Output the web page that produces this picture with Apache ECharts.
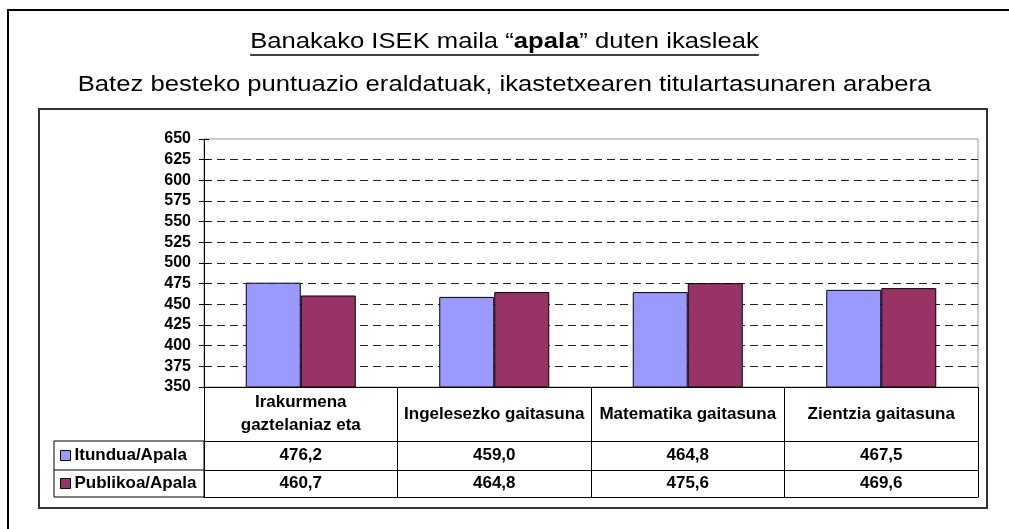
<!DOCTYPE html>
<html>
<head>
<meta charset="utf-8">
<style>
  html, body { margin: 0; padding: 0; background: #fff; }
  #chart { width: 1009px; height: 529px; }
</style>
<script src="https://cdn.jsdelivr.net/npm/echarts@6/dist/echarts.min.js"></script>
</head>
<body>
<div id="chart"></div>
<script>
const categories = ["Irakurmena\ngaztelaniaz eta", "Ingelesezko gaitasuna", "Matematika gaitasuna", "Zientzia gaitasuna"];
const seriesNames = ["Itundua/Apala", "Publikoa/Apala"];
const itundua = [476.2, 459.0, 464.8, 467.5];
const publikoa = [460.7, 464.8, 475.6, 469.6];
const yMin = 350;
const yMax = 650;
const yStep = 25;

const titleParts = ["Banakako ISEK maila “", "apala", "” duten ikasleak"];
const subtitle = "Batez besteko puntuazio eraldatuak, ikastetxearen titulartasunaren arabera";

const FONT = '"Liberation Sans", Arial, sans-serif';
const COLORS = {
  itundua: "#9999FF",
  publikoa: "#993366",
  ink: "#000",
  frame: "#333",
  plotBorder: "#999",
};
const W = 1009;
const GRID = { left: 204, right: 31, top: 139, bottom: 142 };
const ROW_H = [54, 29, 27]; // header row, row 1, row 2
const LEGEND_LEFT = 54;
const TITLE_STRETCH = 1.165; // the titles are drawn a bit wider than the font

function fmt(v) {
  return v.toFixed(1).replace(".", ",");
}

function textWidth(str, font) {
  const ctx = document.createElement("canvas").getContext("2d");
  ctx.font = font;
  return ctx.measureText(str).width;
}

const cellText = { fontSize: 17, fontWeight: "bold", fontFamily: FONT, color: COLORS.ink };

function tableAxis(offset, height, labels) {
  return {
    type: "category",
    data: categories,
    position: "bottom",
    offset,
    axisLine: { show: true, lineStyle: { color: COLORS.ink, width: 1 } },
    axisTick: { show: height > 0, length: height, interval: 0, lineStyle: { color: COLORS.ink } },
    axisLabel: labels
      ? {
          show: true,
          interval: 0,
          margin: height / 2,
          verticalAlign: "middle",
          formatter: (v, i) => labels[i],
          ...cellText,
        }
      : { show: false },
    splitLine: { show: false },
  };
}

function titleText(y, text, rich) {
  return {
    type: "text",
    x: W / 2,
    y,
    scaleX: TITLE_STRETCH,
    originX: 0,
    originY: 0,
    silent: true,
    style: {
      text,
      x: 0,
      y: 0,
      fontSize: 22,
      fontFamily: FONT,
      fill: COLORS.ink,
      align: "center",
      verticalAlign: "middle",
      rich,
    },
  };
}

const chart = echarts.init(document.getElementById("chart"));

const tableTop = 529 - GRID.bottom;
const row1 = tableTop + ROW_H[0];
const row2 = row1 + ROW_H[1];
const row3 = row2 + ROW_H[2];

const titleFont = "22px " + FONT;
const titleW =
  (textWidth(titleParts[0], titleFont) +
    textWidth(titleParts[1], "bold " + titleFont) +
    textWidth(titleParts[2], titleFont)) *
  TITLE_STRETCH;

chart.setOption({
  animation: false,
  legend: {
    orient: "vertical",
    left: LEGEND_LEFT + 6,
    top: row1 + ROW_H[1] / 2 - 8.5,
    padding: 0,
    itemGap: 11,
    itemWidth: 10,
    itemHeight: 10,
    icon: "rect",
    itemStyle: { borderColor: COLORS.ink, borderWidth: 1 },
    textStyle: { ...cellText, lineHeight: 17, padding: [0, 0, 0, -1] },
    data: seriesNames,
  },
  grid: {
    ...GRID,
    show: true,
    borderColor: COLORS.plotBorder,
    borderWidth: 1,
    outerBoundsMode: "none",
  },
  xAxis: [
    {
      ...tableAxis(0, ROW_H[0], categories),
      axisLabel: {
        show: true,
        interval: 0,
        margin: ROW_H[0] / 2,
        verticalAlign: "middle",
        lineHeight: 23,
        ...cellText,
      },
    },
    tableAxis(ROW_H[0], ROW_H[1], itundua.map(fmt)),
    tableAxis(ROW_H[0] + ROW_H[1], ROW_H[2], publikoa.map(fmt)),
    tableAxis(ROW_H[0] + ROW_H[1] + ROW_H[2], 0, null),
  ],
  yAxis: [
    {
      type: "value",
      min: yMin,
      max: yMax,
      interval: yStep,
      axisLine: { show: true, lineStyle: { color: COLORS.ink, width: 1 } },
      axisTick: { show: true, length: 5, lineStyle: { color: COLORS.ink } },
      axisLabel: { margin: 13, fontSize: 16, fontWeight: "bold", fontFamily: FONT, color: COLORS.ink },
      splitLine: {
        show: true,
        showMaxLine: false,
        lineStyle: { color: "#222", type: [8, 5], width: 1 },
      },
    },
    {
      // inner half of the cross tick marks
      type: "value",
      min: yMin,
      max: yMax,
      interval: yStep,
      position: "left",
      axisLine: { show: false },
      axisTick: { show: true, inside: true, length: 5, lineStyle: { color: COLORS.ink } },
      axisLabel: { show: false },
      splitLine: { show: false },
    },
  ],
  series: [
    {
      name: seriesNames[0],
      type: "bar",
      data: itundua,
      barWidth: 55,
      barGap: "0%",
      itemStyle: { color: COLORS.itundua, borderColor: COLORS.ink, borderWidth: 1 },
    },
    {
      name: seriesNames[1],
      type: "bar",
      data: publikoa,
      barWidth: 55,
      barGap: "0%",
      itemStyle: { color: COLORS.publikoa, borderColor: COLORS.ink, borderWidth: 1 },
    },
  ],
  graphic: [
    titleText(42, titleParts[0] + "{b|" + titleParts[1] + "}" + titleParts[2], {
      b: { fontSize: 22, fontWeight: "bold", fontFamily: FONT, fill: COLORS.ink },
    }),
    titleText(85, subtitle),
    {
      type: "polyline",
      shape: { points: [[8, 529], [8, 10], [W, 10]] },
      style: { stroke: COLORS.ink, lineWidth: 2, fill: null },
      silent: true,
    },
    {
      type: "rect",
      shape: { x: 39, y: 109, width: 948, height: 399 },
      style: { stroke: COLORS.frame, lineWidth: 2, fill: null },
      silent: true,
    },
    {
      type: "line",
      shape: { x1: (W - titleW) / 2, y1: 55, x2: (W + titleW) / 2, y2: 55 },
      style: { stroke: COLORS.ink, lineWidth: 1.5 },
      silent: true,
    },
    {
      type: "rect",
      shape: { x: LEGEND_LEFT, y: row1, width: GRID.left - LEGEND_LEFT, height: row3 - row1 },
      style: { stroke: COLORS.ink, lineWidth: 1, fill: null },
      silent: true,
    },
    {
      type: "line",
      shape: { x1: LEGEND_LEFT, y1: row2, x2: GRID.left, y2: row2 },
      style: { stroke: COLORS.ink, lineWidth: 1 },
      silent: true,
    },
  ],
});
</script>
</body>
</html>
